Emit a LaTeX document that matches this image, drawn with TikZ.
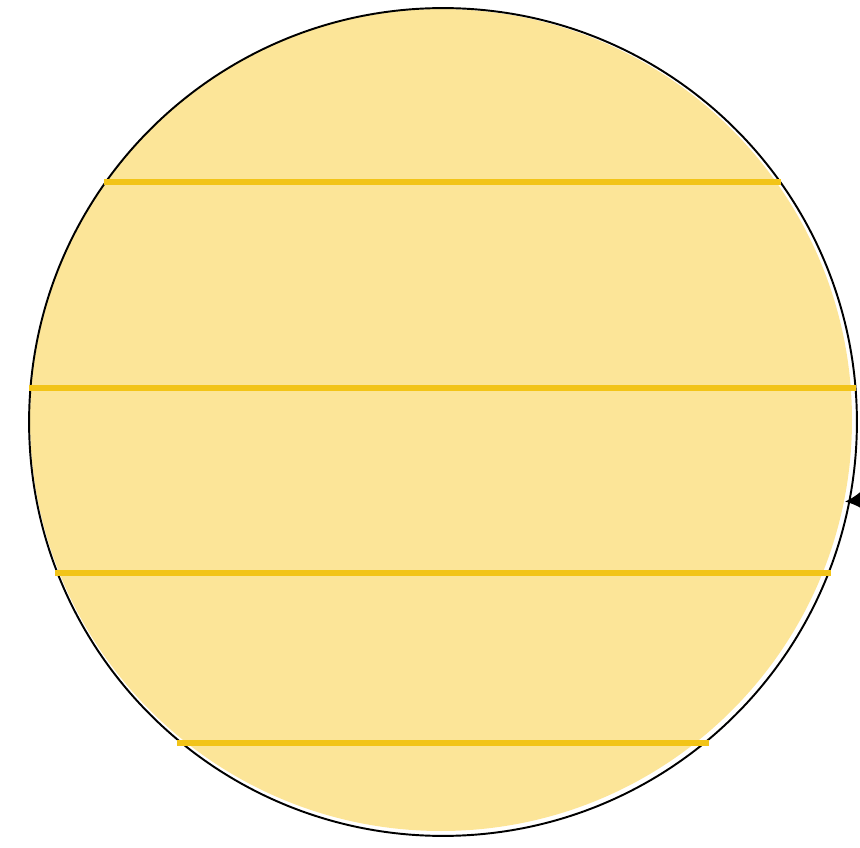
\documentclass[tikz,border=0pt]{standalone}
\usepackage{tikz}
\usetikzlibrary{arrows.meta, positioning}
\definecolor{SunCream}{RGB}{252, 229, 152}
\definecolor{SunGold}{RGB}{242, 196, 24}

\begin{document}
\begin{tikzpicture}[x=0.02cm, y=-0.02cm,
	disk/.style={circle, draw=black, line width=1.1pt, inner sep=0pt, minimum size=16.56cm},
	band/.style={draw=SunGold, line width=3.6pt}]
	\useasboundingbox (0,0) rectangle (860,848);
	\fill[SunCream] (441,420) circle[radius=411];
	\node[disk] (sun) at (443,422) {};
	% bands across the disk
	\coordinate (b1l) at (104,182); \coordinate (b1r) at (781,182);
	\coordinate (b2l) at (29,388);  \coordinate (b2r) at (856,388);
	\coordinate (b3l) at (55,573);  \coordinate (b3r) at (831,573);
	\coordinate (b4l) at (177,743); \coordinate (b4r) at (709,743);
	\draw[band] (b1l) -- (b1r);
	\draw[band] (b2l) -- (b2r);
	\draw[band] (b3l) -- (b3r);
	\draw[band] (b4l) -- (b4r);
	\coordinate (src) at (900,497);
	\draw[line width=1.4pt, shorten >=-3pt, -{Latex[length=10pt, width=11pt]}] (src) -- (sun.-11);
\end{tikzpicture}
\end{document}
